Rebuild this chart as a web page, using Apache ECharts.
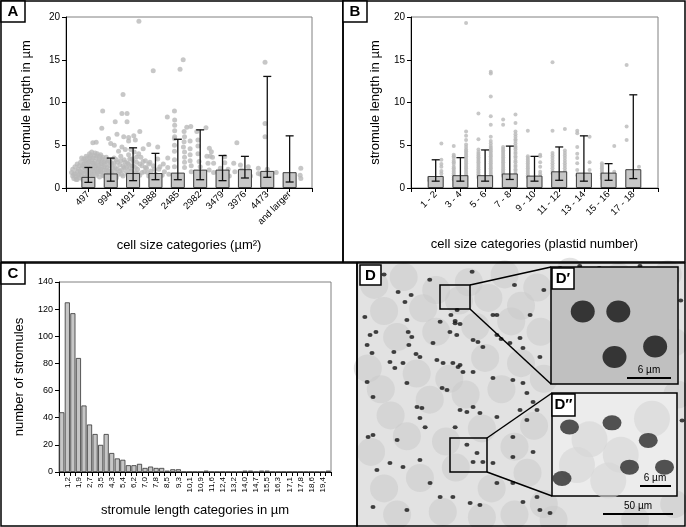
<!DOCTYPE html>
<html>
<head>
<meta charset="utf-8">
<script src="https://cdn.jsdelivr.net/npm/echarts@6/dist/echarts.min.js"></script>
<style>
  html, body { margin: 0; padding: 0; background: #fff; }
  #main { width: 686px; height: 527px; }
</style>
</head>
<body>
<div id="main"></div>
<script>
// ---- panel A: cell size in um2 ----
var aCats = ['497', '994', '1491', '1988', '2485', '2982', '3479', '3976', '4473', 'and larger'];
var aMean = [1.3, 1.7, 1.75, 1.75, 1.8, 2.15, 2.15, 2.2, 2.0, 1.85];
var aLow = [0.66, 0.8, 0.86, 0.97, 0.97, 0.97, 0.86, 1.17, 1.25, 0.7];
var aHigh = [2.4, 3.5, 4.7, 4.05, 5.7, 6.8, 3.8, 3.7, 13.05, 6.1];
// single stromules, x = position along the size axis (category units)
var aDots = [
  [0.3,1.4],[0.35,1.1],[0.4,1.7],[0.45,1.3],[0.5,2.0],[0.5,1.0],[0.55,1.5],[0.6,2.6],[0.6,1.2],[0.65,1.9],
  [0.7,3.5],[0.7,2.3],[0.7,1.4],[0.75,1.0],[0.8,2.8],[0.8,1.7],[0.85,3.2],[0.85,2.1],[0.9,1.3],[0.9,3.7],
  [0.95,2.5],[0.95,1.6],[1.0,3.0],[1.0,2.0],[1.0,1.1],[1.05,3.5],[1.05,4.0],[1.1,2.7],[1.1,1.8],[1.15,4.2],
  [1.15,3.3],[1.2,2.3],[1.2,1.4],[1.25,3.8],[1.25,2.9],[1.3,4.1],[1.3,2.0],[1.35,3.5],[1.35,2.6],[1.4,4.0],
  [1.4,1.7],[1.45,3.1],[1.45,2.3],[1.5,3.7],[1.5,1.3],[1.55,2.8],[1.55,1.9],[1.6,3.4],[1.6,2.4],[1.65,1.5],
  [1.7,3.0],[1.7,2.1],[1.75,2.7],[1.8,1.7],[1.8,3.6],[1.85,2.4],[1.9,1.3],[1.9,3.2],
  [0.25,1.8],[0.3,2.2],[0.35,1.6],[0.4,2.5],[0.45,1.0],[0.5,2.8],[0.55,2.2],[0.6,1.6],[0.65,3.0],[0.7,1.8],
  [0.75,2.6],[0.8,1.2],[0.8,3.4],[0.85,2.4],[0.9,1.9],[0.9,2.9],[0.95,3.5],[1.0,1.5],[1.0,2.5],[1.05,3.1],
  [1.1,2.2],[1.1,3.8],[1.15,1.6],[1.2,2.9],[1.2,3.5],[1.25,1.9],[1.3,2.5],[1.3,3.1],[1.35,1.5],[1.4,2.2],
  [1.4,3.7],[1.45,1.9],[1.45,2.7],[1.5,3.3],[1.55,2.2],[1.55,3.9],[1.6,1.8],[1.6,2.9],[1.65,3.6],[1.7,2.5],
  [1.7,1.4],[1.75,3.2],[1.8,2.1],[1.85,3.0],[1.9,2.0],[1.95,2.6],[2.0,3.0],[2.05,1.7],[2.1,2.3],[2.15,2.9],
  [2.2,1.9],[2.25,3.3],[2.3,2.2],[2.35,1.6],[2.4,2.7],[2.45,3.2],[2.5,2.1],[2.55,1.4],[2.6,2.4],[2.65,3.0],
  [2.7,2.4],[2.75,1.6],[2.8,2.8],[2.85,3.4],[2.9,2.0],[2.95,2.6],[3.0,3.2],[3.05,1.5],[3.1,2.4],[3.15,3.6],
  [3.2,1.7],[3.3,2.8],[3.4,1.8],[3.45,3.1],[3.55,2.4],[3.65,1.8],[3.7,2.8],[3.85,1.5],[3.95,2.2],[4.05,1.3],[4.2,2.5],
  [2.0,2.0],[2.05,2.8],[2.1,1.5],[2.15,3.5],[2.2,2.4],[2.25,1.2],[2.3,3.0],[2.35,4.3],[2.4,2.0],[2.45,3.7],
  [2.5,1.6],[2.5,4.8],[2.55,2.6],[2.6,3.3],[2.65,4.5],[2.7,1.9],[2.75,2.9],[2.8,5.5],[2.8,3.9],[2.85,2.3],
  [2.9,4.5],[2.9,1.4],[2.95,3.4],[3.0,2.6],[3.05,4.2],[3.1,1.8],[3.1,5.6],[3.15,3.0],[3.2,2.2],[3.25,4.0],
  [3.3,1.5],[3.35,3.6],[3.4,2.6],[3.45,4.6],[3.5,1.9],[3.55,3.2],[3.6,2.3],[3.7,1.4],[3.75,3.0],[3.8,2.0],
  [3.9,2.6],[4.0,1.6],[4.1,3.4],[4.15,2.2],[4.3,1.5],[4.35,2.8],[4.4,1.9],
  [4.55,3.5],[4.55,2.4],[4.6,1.6],[4.85,5.8],[4.85,5.0],[4.85,4.3],[4.85,3.3],[4.85,2.5],[4.9,1.4],
  [5.25,4.8],[5.3,4.2],[5.3,3.6],[5.3,3.0],[5.3,2.4],[5.55,5.5],[5.55,4.6],[5.55,3.9],[5.55,3.2],[5.6,2.6],
  [5.6,1.9],[5.85,6.6],[5.9,5.6],[5.9,4.9],[5.9,4.0],[5.95,3.1],[6.0,2.5],[6.1,1.6],[6.3,3.7],[6.35,2.9],
  [6.4,2.1],[6.55,3.6],[6.6,2.9],[6.6,1.8],[6.9,2.3],[7.0,1.6],[7.25,2.2],[7.3,1.4],[7.55,1.9],[7.85,2.1],
  [7.9,1.3],[8.2,2.0],[8.25,1.4],[8.6,2.3],[8.7,1.6],[9.0,2.2],[9.1,1.4],[9.4,1.8],
  [3.26,19.5],[3.9,13.7],[5.1,13.9],[5.24,15.0],[8.9,14.7],[8.9,7.55],[8.9,6.0],[2.55,10.95],[2.5,8.7],[2.73,8.7],
  [1.64,9.0],[2.2,7.75],[2.73,7.75],[1.6,7.0],[4.85,9.0],[4.86,7.95],[4.53,8.3],[5.4,7.1],[5.58,7.2],[5.28,6.6],
  [5.3,6.0],[5.28,5.4],[6.26,7.05],[4.86,7.35],[4.86,6.7],[4.86,6.0],[7.64,5.3],[3.7,5.1],[4.1,4.8],[3.3,6.6],
  [3.03,6.1],[2.58,6.0],[2.8,5.9],[2.28,6.3],[1.9,5.8],[1.35,5.35],[1.2,5.3],[2.0,5.2],[2.16,5.0],[6.41,4.65],
  [6.5,4.25],[6.45,3.7],[7.1,3.65],[7.1,2.95],[7.5,2.9],[7.8,2.7],[10.5,2.3],[10.47,1.5],[10.5,1.1],[8.6,1.7],[8.15,2.5]
];

// ---- panel B: cell size in plastid number ----
var bCats = ['1 - 2', '3 - 4', '5 - 6', '7 - 8', '9 - 10', '11 - 12', '13 - 14', '15 - 16', '17 - 18'];
var bMean = [1.4, 1.5, 1.5, 1.7, 1.45, 1.95, 1.8, 1.8, 2.2];
var bLow = [0.8, 0.8, 0.8, 1.0, 0.8, 0.9, 0.8, 0.9, 1.1];
var bHigh = [3.3, 3.55, 4.45, 4.9, 3.7, 4.8, 6.1, 2.85, 10.9];
// [plastid number, stromule lengths]
var bDots = [
  [1, [0.9, 1.2]],
  [2, [5.2, 3.3, 2.8, 2.5, 2.0, 1.7, 1.3, 1.0]],
  [3, [4.9, 3.9, 3.7, 3.5, 3.2, 3.0, 2.8, 2.5, 2.3, 2.1, 1.9, 1.7, 1.5, 1.2, 1.0]],
  [4, [19.3, 6.6, 6.1, 5.6, 5.1, 4.8, 4.5, 4.3, 4.1, 3.9, 3.7, 3.5, 3.3, 3.1, 2.9, 2.7, 2.5, 2.3, 2.1, 1.9, 1.7, 1.5, 1.3, 1.1]],
  [5, [8.7, 5.7, 4.5, 4.2, 4.0, 3.8, 3.6, 3.4, 3.2, 3.0, 2.8, 2.6, 2.4, 2.2, 2.0, 1.8, 1.6, 1.4, 1.2]],
  [6, [13.6, 13.4, 10.7, 8.4, 7.4, 6.0, 5.5, 5.2, 4.9, 4.7, 4.5, 4.3, 4.1, 3.9, 3.7, 3.5, 3.3, 3.1, 2.9, 2.7, 2.5, 2.3, 2.1, 1.9, 1.7, 1.5, 1.3]],
  [7, [8.0, 7.4, 4.8, 4.6, 4.4, 4.2, 4.0, 3.8, 3.6, 3.4, 3.2, 3.0, 2.8, 2.6, 2.4, 2.2, 2.0, 1.8, 1.6, 1.4]],
  [8, [8.6, 7.6, 6.6, 6.3, 6.0, 5.7, 5.5, 5.2, 4.9, 4.7, 4.5, 4.2, 4.0, 3.7, 3.5, 3.2, 3.0, 2.7, 2.5, 2.2, 2.0, 1.7, 1.5, 1.2]],
  [9, [6.7, 3.7, 3.5, 3.3, 3.1, 2.9, 2.7, 2.5, 2.3, 2.1, 1.9, 1.7, 1.5, 1.3]],
  [10, [3.9, 3.7, 3.0, 2.5, 1.9, 1.6]],
  [11, [14.7, 6.7, 4.1, 3.8, 3.5, 3.2, 2.9, 2.6, 2.3, 2.0, 1.7]],
  [12, [6.9, 4.4, 4.1, 3.8, 3.5, 3.2, 2.9, 2.6, 2.3, 2.0, 1.7]],
  [13, [6.7, 6.4, 4.8, 4.0, 3.5, 2.9, 2.1, 1.5]],
  [14, [6.0, 3.0, 2.1]],
  [15, [2.9, 2.7, 2.5, 2.3, 2.1, 1.9, 1.7, 1.5, 1.3, 1.1]],
  [16, [4.9, 1.9]],
  [17, [14.4, 7.2, 5.6]],
  [18, [2.5]]
];

// ---- panel C: histogram of stromule length ----
var cLabels = ['1,2', '1,9', '2,7', '3,5', '4,3', '5,4', '6,2', '7,0', '7,8', '8,5', '9,3', '10,1',
  '10,9', '11,6', '12,4', '13,2', '14,0', '14,7', '15,5', '16,3', '17,1', '17,8', '18,6', '19,4'];
var cCounts = [44, 125, 117, 84, 49, 35, 28, 20, 28, 14, 10, 9, 5, 5, 6, 3, 4, 3, 3, 1, 2, 2, 0, 0, 0,
  0, 1, 0, 0, 0, 0, 0, 0, 1, 1, 0, 1, 1, 0, 0, 0, 0, 0, 0, 0, 0, 0, 0, 1];

// ---- panel D: micrograph, positions in percent of the field ----
var dCells = [
  [5,8],[14,5],[24,10],[34,7],[45,4],[55,9],[8,18],[20,17],[31,14],[40,13],[50,16],[3,40],[12,28],[24,26],
  [36,24],[47,22],[56,26],[7,48],[18,42],[28,44],[39,36],[50,38],[57,44],[10,58],[22,52],[33,50],[44,48],
  [54,62],[4,72],[15,66],[27,68],[38,63],[48,70],[8,86],[19,82],[30,78],[41,86],[52,80],[57,92],[12,96],
  [26,95],[38,97],[48,96],[60,98],[65,3],[80,5],[95,4],[97,30],[98,50],[97,92],[85,98]
];
var dPlastids = [
  [2.1,20.3],[15.0,21.5],[25.2,22.1],[29.8,22.7],[41.4,19.5],[42.6,19.5],[52.8,19.5],[3.7,27.2],[15.4,26.1],[16.5,28.0],
  [28.2,26.1],[30.3,27.2],[35.3,29.1],[36.8,29.9],[38.3,31.8],[49.7,28.4],[4.3,34.1],[9.8,37.5],[11.3,39.8],[13.8,37.9],
  [19.0,35.6],[24.2,36.8],[26.1,37.9],[30.7,39.5],[32.2,41.4],[35.3,41.4],[41.4,43.7],[47.5,44.4],[50.6,45.6],[55.8,35.6],
  [2.8,45.2],[4.6,51.0],[15.0,45.6],[18.1,54.8],[19.6,55.2],[25.8,47.5],[27.3,48.3],[31.3,55.9],[33.4,56.7],[35.3,54.8],
  [37.4,57.1],[42.6,58.6],[49.7,55.9],[51.8,49.4],[53.7,52.9],[54.9,55.9],[3.1,66.3],[4.6,65.5],[12.0,67.4],[19.0,59.0],
  [20.6,62.5],[29.8,62.5],[33.4,69.3],[36.5,72.4],[38.3,75.9],[35.3,75.9],[41.4,76.2],[47.5,73.9],[53.7,72.0],[5.8,78.9],
  [9.8,76.2],[13.8,77.8],[19.0,75.1],[22.1,83.9],[25.2,89.3],[29.1,89.3],[34.4,91.6],[37.4,92.3],[42.6,83.9],[47.5,83.9],
  [50.6,91.2],[54.9,89.3],[55.8,94.3],[58.9,95.4],[15.0,94.3],[4.6,93.1],[51.8,59.8],[47.5,66.3],
  [12.3,10.7],[16.3,11.9],[14.4,14.6],[30.4,17.6],[28.5,19.5],[29.8,21.8],[31.3,23.0],[42.6,27.2],[43.9,28.7],[46.6,30.3],
  [50.6,32.2],[5.5,26.1],[2.8,31.0],[11.0,33.7],[15.6,31.0],[17.8,34.5],[23.0,30.3],[29.1,37.9],[31.3,38.7],
  [62,1.5],[68,0.8],[74,1.5],[86.5,0.8],[99,14],[99.4,60],[8,4],[22,6],[35,3],[48,8],[57,10]
];
var dPrimeBlobs = [[25, 38], [53, 38], [82, 68], [50, 77]];
var dDoubleCells = [[30, 45], [55, 60], [20, 70], [80, 25], [45, 85]];
var dDoubleBlobs = [[14, 33], [48, 29], [77, 46], [62, 72], [90, 72], [8, 83]];

var FONT = 'Liberation Sans, Arial, sans-serif';

function errorBars(params, api) {
    var x = api.value(0);
    var lo = api.coord([x, api.value(1)]);
    var hi = api.coord([x, api.value(2)]);
    var cw = 4;
    var st = { stroke: '#111', lineWidth: 1.3 };
    return {
        type: 'group',
        children: [
            { type: 'line', shape: { x1: lo[0], y1: lo[1], x2: hi[0], y2: hi[1] }, style: st },
            { type: 'line', shape: { x1: lo[0] - cw, y1: lo[1], x2: lo[0] + cw, y2: lo[1] }, style: st },
            { type: 'line', shape: { x1: hi[0] - cw, y1: hi[1], x2: hi[0] + cw, y2: hi[1] }, style: st }
        ]
    };
}

function lengthAxis(grid, gap) {
    return {
        gridIndex: grid, type: 'value', min: 0, max: 20, interval: 5,
        name: 'stromule length in µm', nameLocation: 'middle', nameGap: gap,
        nameTextStyle: { fontFamily: FONT, fontSize: 13, color: '#000' },
        axisLine: { show: true, lineStyle: { color: '#000' } },
        axisTick: { show: true, length: 4, lineStyle: { color: '#000' } },
        axisLabel: { fontFamily: FONT, fontSize: 10, color: '#000', margin: 6 },
        splitLine: { show: false }
    };
}

function catAxis(grid, max, cats, title, gap) {
    return {
        gridIndex: grid, type: 'value', min: 0, max: max, interval: 1,
        name: title, nameLocation: 'middle', nameGap: gap,
        nameTextStyle: { fontFamily: FONT, fontSize: 13, color: '#000' },
        axisLine: { show: true, lineStyle: { color: '#000' } },
        axisTick: { show: true, length: 4, lineStyle: { color: '#000' } },
        axisLabel: {
            rotate: 45, fontFamily: FONT, fontSize: 9.5, color: '#000', margin: 5,
            formatter: function (v) { return cats[v - 1] || ''; }
        },
        splitLine: { show: false }
    };
}

var hidden = { show: false, min: 0, max: 100 };

var chart = echarts.init(document.getElementById('main'));

var bDotSeries = [];
bDots.forEach(function (col) {
    var p = col[0];
    var x = Math.ceil(p / 2) + (p % 2 ? -0.27 : 0.23);
    col[1].forEach(function (v) { bDotSeries.push([x, v]); });
});

var cCats = cCounts.map(function (c, i) { return i % 2 ? cLabels[(i - 1) / 2] : ''; });

var barStyle = { color: '#c6c6c6', borderColor: '#3a3a3a', borderWidth: 1 };

var option = {
    backgroundColor: '#fff',
    animation: false,
    textStyle: { fontFamily: FONT },
    grid: [
        { left: 66, top: 17, width: 246, height: 171, show: true, borderColor: '#808080', borderWidth: 1 },
        { left: 411, top: 17, width: 247, height: 171, show: true, borderColor: '#808080', borderWidth: 1 },
        { left: 59, top: 282, width: 272, height: 190, show: true, borderColor: '#808080', borderWidth: 1 },
        { left: 358, top: 264, width: 326, height: 261, show: true, backgroundColor: '#e2e2e2', borderWidth: 0, z: 0 },
        { left: 551, top: 267, width: 127, height: 117, show: true, backgroundColor: '#c0c0c0', borderColor: '#000', borderWidth: 1.5, z: 3 },
        { left: 552, top: 393, width: 125, height: 103, show: true, backgroundColor: '#ececec', borderColor: '#000', borderWidth: 1.5, z: 3 }
    ],
    xAxis: [
        catAxis(0, 11, aCats, 'cell size categories (µm²)', 51),
        catAxis(1, 10, bCats, 'cell size categories (plastid number)', 50),
        {
            gridIndex: 2, type: 'category', data: cCats,
            name: 'stromule length categories in µm', nameLocation: 'middle', nameGap: 32,
            nameTextStyle: { fontFamily: FONT, fontSize: 13, color: '#000' },
            axisLine: { lineStyle: { color: '#000' } },
            axisTick: { show: true, interval: 0, length: 4, lineStyle: { color: '#000' } },
            axisLabel: { interval: 0, rotate: 90, fontFamily: FONT, fontSize: 8, color: '#000', margin: 5 }
        },
        Object.assign({ gridIndex: 3 }, hidden),
        Object.assign({ gridIndex: 4 }, hidden),
        Object.assign({ gridIndex: 5 }, hidden)
    ],
    yAxis: [
        lengthAxis(0, 33),
        lengthAxis(1, 29),
        {
            gridIndex: 2, type: 'value', min: 0, max: 140, interval: 20,
            name: 'number of stromules', nameLocation: 'middle', nameGap: 33,
            nameTextStyle: { fontFamily: FONT, fontSize: 13, color: '#000' },
            axisLine: { show: true, lineStyle: { color: '#000' } },
            axisTick: { show: true, length: 4, lineStyle: { color: '#000' } },
            axisLabel: { fontFamily: FONT, fontSize: 9, color: '#000', margin: 6 },
            splitLine: { show: false }
        },
        Object.assign({ gridIndex: 3, inverse: true }, hidden),
        Object.assign({ gridIndex: 4, inverse: true }, hidden),
        Object.assign({ gridIndex: 5, inverse: true }, hidden)
    ],
    series: [
        // A
        { type: 'scatter', xAxisIndex: 0, yAxisIndex: 0, data: aDots, symbolSize: 5, z: 1,
          itemStyle: { color: '#b9b9b9' }, silent: true },
        { type: 'bar', xAxisIndex: 0, yAxisIndex: 0, barWidth: 14, z: 2, itemStyle: barStyle,
          data: aMean.map(function (v, i) { return [i + 1, v]; }) },
        { type: 'custom', xAxisIndex: 0, yAxisIndex: 0, z: 3, renderItem: errorBars, encode: { x: 0, y: [1, 2] },
          data: aLow.map(function (v, i) { return [i + 1, v, aHigh[i]]; }) },
        // B
        { type: 'scatter', xAxisIndex: 1, yAxisIndex: 1, data: bDotSeries, symbolSize: 4, z: 1,
          itemStyle: { color: '#b9b9b9' }, silent: true },
        { type: 'bar', xAxisIndex: 1, yAxisIndex: 1, barWidth: 16, z: 2, itemStyle: barStyle,
          data: bMean.map(function (v, i) { return [i + 1, v]; }) },
        { type: 'custom', xAxisIndex: 1, yAxisIndex: 1, z: 3, renderItem: errorBars, encode: { x: 0, y: [1, 2] },
          data: bLow.map(function (v, i) { return [i + 1, v, bHigh[i]]; }) },
        // C
        { type: 'bar', xAxisIndex: 2, yAxisIndex: 2, data: cCounts, barCategoryGap: '8%',
          itemStyle: { color: '#c6c6c6', borderColor: '#333', borderWidth: 0.8 } },
        // D: cells, then plastids
        { type: 'scatter', xAxisIndex: 3, yAxisIndex: 3, data: dCells, symbolSize: 28, z: 1,
          itemStyle: { color: '#cbcbcb', opacity: 0.55 }, silent: true },
        { type: 'scatter', xAxisIndex: 3, yAxisIndex: 3, data: dPlastids, symbolSize: [5, 4], z: 1,
          itemStyle: { color: '#151515' }, silent: true },
        { type: 'scatter', xAxisIndex: 4, yAxisIndex: 4, data: dPrimeBlobs, symbolSize: [24, 22], z: 4,
          itemStyle: { color: '#111' }, silent: true },
        { type: 'scatter', xAxisIndex: 5, yAxisIndex: 5, data: dDoubleCells, symbolSize: 36, z: 4,
          itemStyle: { color: '#d6d6d6', opacity: 0.6 }, silent: true },
        { type: 'scatter', xAxisIndex: 5, yAxisIndex: 5, data: dDoubleBlobs, symbolSize: [19, 15], z: 4,
          itemStyle: { color: '#2b2b2b' }, silent: true }
    ],
    graphic: [
        // panel frames
        { type: 'rect', z: 10, shape: { x: 1, y: 1, width: 342, height: 261 }, style: { fill: null, stroke: '#000', lineWidth: 1.5 } },
        { type: 'rect', z: 10, shape: { x: 343, y: 1, width: 342, height: 261 }, style: { fill: null, stroke: '#000', lineWidth: 1.5 } },
        { type: 'rect', z: 10, shape: { x: 1, y: 263, width: 356, height: 263 }, style: { fill: null, stroke: '#000', lineWidth: 1.5 } },
        { type: 'rect', z: 10, shape: { x: 357, y: 263, width: 328, height: 263 }, style: { fill: null, stroke: '#000', lineWidth: 1.5 } },
        // panel letters
        { type: 'rect', z: 11, shape: { x: 1, y: 1, width: 24, height: 21 }, style: { fill: '#fff', stroke: '#000', lineWidth: 1.5 } },
        { type: 'text', z: 12, x: 13, y: 12, style: { text: 'A', font: 'bold 15px ' + FONT, fill: '#000', align: 'center', verticalAlign: 'middle' } },
        { type: 'rect', z: 11, shape: { x: 343, y: 1, width: 24, height: 21 }, style: { fill: '#fff', stroke: '#000', lineWidth: 1.5 } },
        { type: 'text', z: 12, x: 355, y: 12, style: { text: 'B', font: 'bold 15px ' + FONT, fill: '#000', align: 'center', verticalAlign: 'middle' } },
        { type: 'rect', z: 11, shape: { x: 1, y: 263, width: 24, height: 21 }, style: { fill: '#fff', stroke: '#000', lineWidth: 1.5 } },
        { type: 'text', z: 12, x: 13, y: 274, style: { text: 'C', font: 'bold 15px ' + FONT, fill: '#000', align: 'center', verticalAlign: 'middle' } },
        { type: 'rect', z: 11, shape: { x: 360, y: 265, width: 21, height: 20 }, style: { fill: '#fff', stroke: '#000', lineWidth: 1.5 } },
        { type: 'text', z: 12, x: 370.5, y: 275.5, style: { text: 'D', font: 'bold 15px ' + FONT, fill: '#000', align: 'center', verticalAlign: 'middle' } },
        { type: 'rect', z: 11, shape: { x: 552, y: 268, width: 22, height: 21 }, style: { fill: '#fff', stroke: '#000', lineWidth: 1.5 } },
        { type: 'text', z: 12, x: 563, y: 279, style: { text: 'D′', font: 'bold 15px ' + FONT, fill: '#000', align: 'center', verticalAlign: 'middle' } },
        { type: 'rect', z: 11, shape: { x: 552, y: 394, width: 23, height: 22 }, style: { fill: '#fff', stroke: '#000', lineWidth: 1.5 } },
        { type: 'text', z: 12, x: 563.5, y: 405, style: { text: 'D″', font: 'bold 15px ' + FONT, fill: '#000', align: 'center', verticalAlign: 'middle' } },
        // zoom boxes and connectors
        { type: 'rect', z: 9, shape: { x: 440, y: 285, width: 30, height: 24 }, style: { fill: null, stroke: '#000', lineWidth: 1.5 } },
        { type: 'rect', z: 9, shape: { x: 450, y: 438, width: 37, height: 34 }, style: { fill: null, stroke: '#000', lineWidth: 1.5 } },
        { type: 'line', z: 9, shape: { x1: 470, y1: 285, x2: 551, y2: 267 }, style: { stroke: '#000', lineWidth: 1.5 } },
        { type: 'line', z: 9, shape: { x1: 470, y1: 309, x2: 551, y2: 384 }, style: { stroke: '#000', lineWidth: 1.5 } },
        { type: 'line', z: 9, shape: { x1: 487, y1: 438, x2: 552, y2: 393 }, style: { stroke: '#000', lineWidth: 1.5 } },
        { type: 'line', z: 9, shape: { x1: 487, y1: 472, x2: 552, y2: 496 }, style: { stroke: '#000', lineWidth: 1.5 } },
        // scale bars
        { type: 'line', z: 9, shape: { x1: 627, y1: 378, x2: 671, y2: 378 }, style: { stroke: '#000', lineWidth: 2 } },
        { type: 'text', z: 9, x: 649, y: 370, style: { text: '6 µm', font: '10px ' + FONT, fill: '#000', align: 'center', verticalAlign: 'middle' } },
        { type: 'line', z: 9, shape: { x1: 640, y1: 486, x2: 671, y2: 486 }, style: { stroke: '#000', lineWidth: 2 } },
        { type: 'text', z: 9, x: 655, y: 478, style: { text: '6 µm', font: '10px ' + FONT, fill: '#000', align: 'center', verticalAlign: 'middle' } },
        { type: 'line', z: 9, shape: { x1: 603, y1: 514, x2: 673, y2: 514 }, style: { stroke: '#000', lineWidth: 2 } },
        { type: 'text', z: 9, x: 638, y: 506, style: { text: '50 µm', font: '10px ' + FONT, fill: '#000', align: 'center', verticalAlign: 'middle' } }
    ]
};

chart.setOption(option);
</script>
</body>
</html>
